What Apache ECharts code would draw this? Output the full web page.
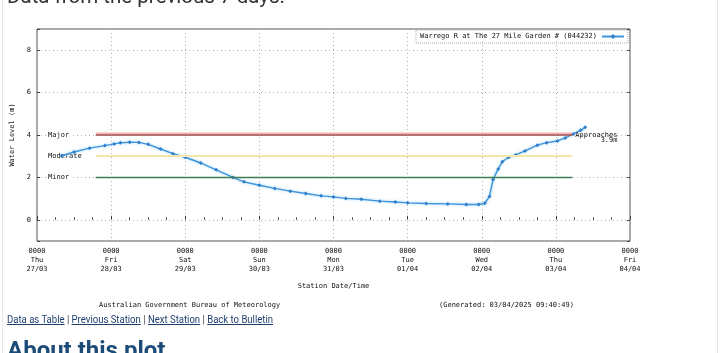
<!DOCTYPE html>
<html>
<head>
<meta charset="utf-8">
<script src="https://cdn.jsdelivr.net/npm/echarts@6/dist/echarts.min.js"></script>
<style>
  html, body { margin: 0; padding: 0; background: #fff; width: 720px; height: 353px; overflow: hidden; font-family: Roboto, sans-serif; }
  #chart { position: absolute; left: 0; top: 0; width: 720px; height: 353px; }
  .txt { position: absolute; white-space: nowrap; transform-origin: 0 0; display: inline-block; }
  #heading { left: 7px; top: -16px; font-size: 20px; color: #333; }
  #links { left: 7px; top: 314px; font-size: 10px; color: #444; }
  #links a { color: #1f3f6e; text-decoration: underline; }
  #about { left: 7px; top: 336px; font-size: 24px; font-weight: bold; color: #1d4b78; }
  .edge { position: absolute; top: 0; width: 1px; height: 353px; background: #e6e6e6; }
</style>
</head>
<body>
<div id="chart"></div>
<div class="edge" style="left:2px"></div>
<div class="edge" style="left:717px"></div>
<div class="txt" id="heading">Data from the previous 7 days.</div>
<div class="txt" id="links"><a>Data as Table</a> | <a>Previous Station</a> | <a>Next Station</a> | <a>Back to Bulletin</a></div>
<div class="txt" id="about">About this plot</div>
<script>
// 站点名称
const stationName = 'Warrego R at The 27 Mile Garden # (044232)'
// 横轴刻度标签（每天 0000）
const tickTimes = ['0000', '0000', '0000', '0000', '0000', '0000', '0000', '0000', '0000']
const tickDays = ['Thu', 'Fri', 'Sat', 'Sun', 'Mon', 'Tue', 'Wed', 'Thu', 'Fri']
const tickDates = ['27/03', '28/03', '29/03', '30/03', '31/03', '01/04', '02/04', '03/04', '04/04']
const startTime = '2025-03-27T00:00'
// 水位观测数据
const times = [
  '2025-03-27T08:00', '2025-03-27T12:00', '2025-03-27T17:00', '2025-03-27T22:00',
  '2025-03-28T01:00', '2025-03-28T03:00', '2025-03-28T06:00', '2025-03-28T09:00',
  '2025-03-28T12:00', '2025-03-28T16:00', '2025-03-28T20:00', '2025-03-29T00:00',
  '2025-03-29T05:00', '2025-03-29T10:00', '2025-03-29T15:30', '2025-03-29T19:00',
  '2025-03-30T00:00', '2025-03-30T05:00', '2025-03-30T10:00', '2025-03-30T15:00',
  '2025-03-30T20:00', '2025-03-31T00:00', '2025-03-31T04:00', '2025-03-31T09:00',
  '2025-03-31T15:00', '2025-03-31T20:00', '2025-04-01T00:00', '2025-04-01T06:00',
  '2025-04-01T13:00', '2025-04-01T19:00', '2025-04-01T23:00', '2025-04-02T01:00',
  '2025-04-02T02:30', '2025-04-02T03:40', '2025-04-02T05:20', '2025-04-02T06:40',
  '2025-04-02T08:40', '2025-04-02T11:00', '2025-04-02T14:00', '2025-04-02T18:00',
  '2025-04-02T21:00', '2025-04-03T00:30', '2025-04-03T03:00', '2025-04-03T05:40',
  '2025-04-03T08:00', '2025-04-03T09:30'
]
const levels = [
  3.02, 3.20, 3.38, 3.50,
  3.58, 3.63, 3.66, 3.65,
  3.56, 3.34, 3.12, 2.95,
  2.68, 2.36, 2.00, 1.79,
  1.63, 1.48, 1.35, 1.24,
  1.13, 1.08, 1.01, 0.97,
  0.88, 0.84, 0.80, 0.77,
  0.75, 0.72, 0.72, 0.78,
  1.10, 1.90, 2.40, 2.74,
  2.95, 3.06, 3.25, 3.52,
  3.64, 3.72, 3.86, 4.05,
  4.22, 4.36
]
// 洪水等级线
const floodNames = ['Minor', 'Moderate', 'Major']
const floodLevels = [2, 3, 4]
const floodColors = ['#3f7b55', '#f3e6a8', '#a84a4a']
const floodStart = '2025-03-27T19:00'
const floodEnd = '2025-04-03T05:20'

const mono = 'DejaVu Sans Mono'
// 把时间换算成距起始时刻的小时数
const toHours = (t) => (Date.parse(t + 'Z') - Date.parse(startTime + 'Z')) / 3600000

const chartInstance = echarts.init(document.getElementById('chart'), null, { renderer: 'canvas' })

const markData = floodLevels.map((lv, i) => {
  const isMajor = floodNames[i] === 'Major'
  return [
    {
      coord: [toHours(floodStart), lv],
      lineStyle: isMajor
        ? { type: 'solid', color: floodColors[i], width: 1.6, shadowColor: '#f0b4b4', shadowOffsetY: -1.6, shadowBlur: 0 }
        : { type: 'solid', color: floodColors[i], width: i === 1 ? 2 : 1.3 },
      label: isMajor
        ? { show: true, position: 'end', distance: 3, formatter: 'Approaches\n      3.9m', fontFamily: mono, fontSize: 7, lineHeight: 5, color: '#111', offset: [0, 3] }
        : { show: false }
    },
    { coord: [toHours(floodEnd), lv] }
  ]
})

const option = {
  animation: false,
  grid: { left: 37, right: 90, top: 29, bottom: 112, show: true, borderColor: '#555', borderWidth: 1, backgroundColor: 'transparent' },
  legend: {
    data: [stationName],
    right: 92, top: 30,
    align: 'right',
    itemWidth: 22, itemHeight: 6, itemGap: 4,
    padding: [3, 3, 3, 4],
    borderColor: '#aaa', borderWidth: 1, borderType: 'dotted',
    textStyle: { fontFamily: mono, fontSize: 7, color: '#111' }
  },
  title: [
    { text: 'Australian Government Bureau of Meteorology', left: 94, top: 297, textStyle: { fontFamily: mono, fontSize: 7, fontWeight: 'normal', color: '#111' } },
    { text: '(Generated: 03/04/2025 09:40:49)', left: 434, top: 297, textStyle: { fontFamily: mono, fontSize: 7, fontWeight: 'normal', color: '#111' } }
  ],
  xAxis: {
    type: 'value',
    min: 0, max: 192, interval: 24,
    name: 'Station Date/Time',
    nameLocation: 'middle', nameGap: 42,
    nameTextStyle: { fontFamily: mono, fontSize: 7, color: '#111' },
    axisLine: { show: false },
    axisTick: { show: true, inside: true, length: 4, lineStyle: { color: '#444' } },
    minorTick: { show: true, splitNumber: 4, length: 2.5, lineStyle: { color: '#444' } },
    splitLine: { show: true, lineStyle: { color: '#b0b0b0', type: [1, 3], width: 1 } },
    axisLabel: {
      margin: 6,
      fontFamily: mono, fontSize: 7, lineHeight: 9, color: '#111',
      formatter: (v) => {
        const i = Math.round(v / 24)
        return tickTimes[i] + '\n' + tickDays[i] + '\n' + tickDates[i]
      }
    }
  },
  yAxis: [
    {
      type: 'value',
      min: -1, max: 9, splitNumber: 5,
      name: 'Water Level (m)',
      nameLocation: 'middle', nameGap: 21, nameRotate: 90,
      nameTextStyle: { fontFamily: mono, fontSize: 7, color: '#111' },
      axisLine: { show: false },
      axisTick: { show: true, inside: true, length: 3, lineStyle: { color: '#444' } },
      splitLine: { show: true, lineStyle: { color: '#b0b0b0', type: [1, 3], width: 1 } },
      axisLabel: {
        margin: 6, fontFamily: mono, fontSize: 7, color: '#111',
        formatter: (v) => (v >= 0 && v % 2 === 0 ? String(v) : '')
      }
    },
    {
      // 洪水等级名称
      type: 'value',
      min: -1, max: 9, interval: 1,
      position: 'left',
      axisLine: { show: false },
      axisTick: { show: false },
      splitLine: { show: false },
      axisLabel: {
        inside: true, margin: 10,
        fontFamily: mono, fontSize: 7, color: '#111',
        backgroundColor: '#fff', padding: [0, 1],
        formatter: (v) => {
          const i = floodLevels.indexOf(v)
          return i >= 0 ? floodNames[i] : ''
        }
      }
    },
    {
      // 右侧镜像刻度
      type: 'value',
      min: -1, max: 9, splitNumber: 5,
      position: 'right',
      axisLine: { show: false },
      axisTick: { show: true, inside: true, length: 3, lineStyle: { color: '#444' } },
      splitLine: { show: false },
      axisLabel: { show: false }
    }
  ],
  series: [
    {
      name: stationName,
      type: 'line',
      data: times.map((t, i) => [toHours(t), levels[i]]),
      symbol: 'diamond',
      symbolSize: 4,
      itemStyle: { color: '#2f7fcc' },
      lineStyle: { color: '#4195dc', width: 1.4, shadowColor: '#9ad2f4', shadowBlur: 3 },
      markLine: {
        silent: true,
        symbol: 'none',
        animation: false,
        data: markData
      },
      z: 3
    }
  ]
}

chartInstance.setOption(option)

// 把网页文字按参考图的宽度压缩
function fitWidth(id, w) {
  const el = document.getElementById(id)
  const real = el.getBoundingClientRect().width
  el.style.transform = 'scaleX(' + (w / real) + ')'
}
fitWidth('heading', 278)
fitWidth('links', 266)
</script>
</body>
</html>
